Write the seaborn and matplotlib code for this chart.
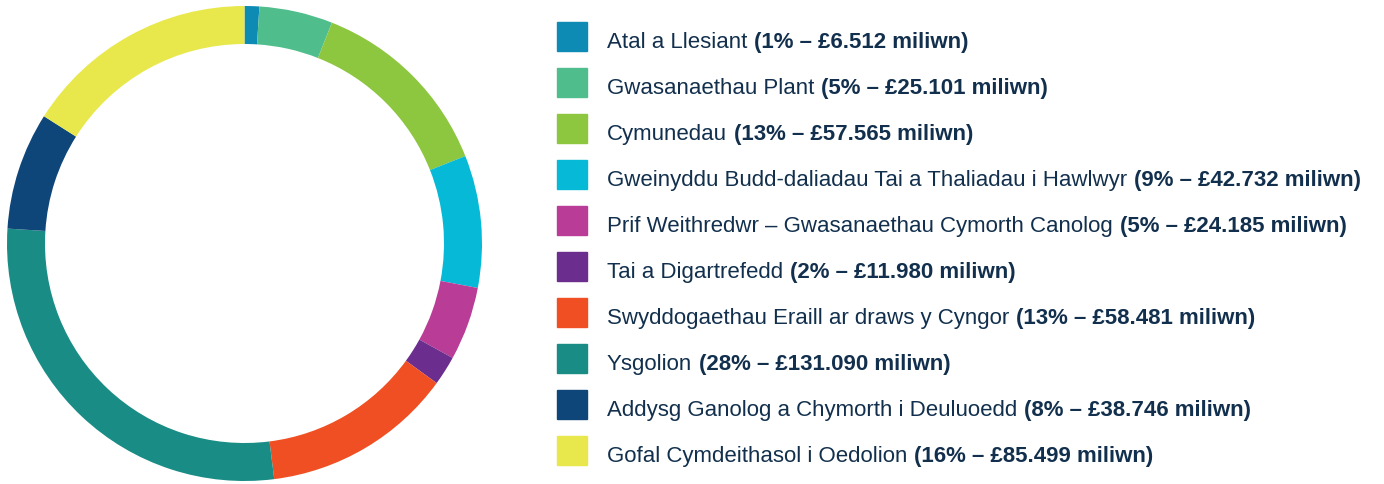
import matplotlib
matplotlib.use('Agg')
from matplotlib import pyplot as plt
import seaborn as sns

# budget split (Welsh labels)
labels = ['Atal a Llesiant', 'Gwasanaethau Plant', 'Cymunedau',
          'Gweinyddu Budd-daliadau Tai a Thaliadau i Hawlwyr',
          'Prif Weithredwr – Gwasanaethau Cymorth Canolog', 'Tai a Digartrefedd',
          'Swyddogaethau Eraill ar draws y Cyngor', 'Ysgolion',
          'Addysg Ganolog a Chymorth i Deuluoedd', 'Gofal Cymdeithasol i Oedolion']
pct = [1, 5, 13, 9, 5, 2, 13, 28, 8, 16]
amounts = ['6.512', '25.101', '57.565', '42.732', '24.185', '11.980', '58.481',
           '131.090', '38.746', '85.499']
colors = ['#0e8bb5', '#50be8c', '#8dc63f', '#06b9d6', '#b93d96',
          '#6b2d8e', '#f04f23', '#1a8c86', '#0f467a', '#e8e84c']

sns.set_theme(style='white')
plt.rcParams['font.family'] = ['Liberation Sans', 'DejaVu Sans']
pal = sns.color_palette(colors)
txt_col = '#12304d'

W, H = 1384, 485
fig = plt.figure(figsize=(W / 100, H / 100), dpi=100)
fig.patch.set_facecolor('white')

# donut
ax = fig.add_axes([7 / W, (H - 482) / H, 475 / W, 475 / H])
ax.pie(pct, colors=pal, startangle=90, counterclock=False, radius=1,
       wedgeprops=dict(width=0.16, edgecolor='none'))
ax.set_xlim(-1, 1)
ax.set_ylim(-1, 1)
ax.set_aspect('equal')
ax.axis('off')

# legend, built by hand so the value part can be bold
row0, step = 23, 46
for i, (lab, p, amt) in enumerate(zip(labels, pct, amounts)):
    top = row0 + i * step
    fig.add_artist(plt.Rectangle((557 / W, 1 - (top + 29) / H), 30 / W, 29 / H,
                                 transform=fig.transFigure, color=pal[i]))
    t = fig.text(607 / W, 1 - (top + 25) / H, lab, fontsize=16, color=txt_col,
                 va='baseline', ha='left')
    ann = plt.Annotation(f'({p}% – £{amt} miliwn)', xy=(1, 0), xycoords=t,
                         xytext=(5, 0), textcoords='offset points',
                         fontsize=16, fontweight='bold', color=txt_col,
                         va='bottom', ha='left')
    fig.add_artist(ann)

fig.savefig('out.png', dpi=100, facecolor='white')
